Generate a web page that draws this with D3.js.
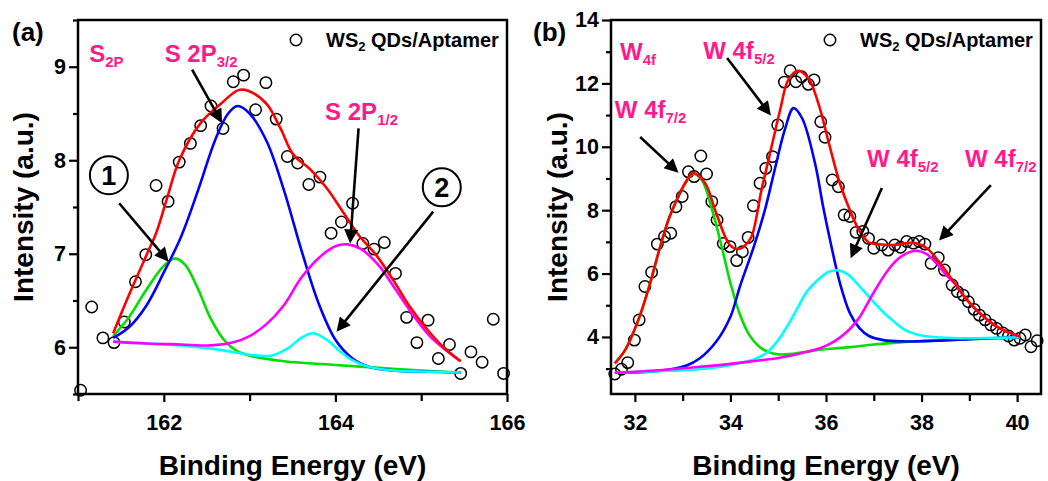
<!DOCTYPE html>
<html><head><meta charset="utf-8">
<script src="https://cdn.jsdelivr.net/npm/d3@7"></script>
<style>
body{margin:0;background:#fff;}
svg{display:block;font-family:"Liberation Sans",Arial,sans-serif;font-weight:bold;}
</style></head><body>
<svg id="chart" width="1048" height="481"></svg>
<script>
// ---------- Panel (a): S 2p ----------
const aPointsE = [161.03,161.16,161.29,161.42,161.54,161.67,161.79,161.91,162.05,162.18,162.31,162.43,162.55,162.69,162.81,162.93,163.07,163.19,163.31,163.44,163.56,163.69,163.82,163.95,164.07,164.20,164.32,164.45,164.57,164.70,164.83,164.95,165.08,165.20,165.33,165.46,165.58,165.71,165.84,165.96];
const aPointsI = [5.54,6.43,6.10,6.05,6.27,6.70,6.99,7.73,7.56,7.98,8.18,8.37,8.58,8.34,8.84,8.91,8.54,8.83,8.44,8.04,7.97,7.74,7.82,7.22,7.34,7.54,7.11,7.05,7.12,6.79,6.32,6.05,6.29,5.88,6.03,5.72,5.95,5.84,6.30,5.72];
const aGreen = [[161.41,6.12],[161.6,6.33],[161.8,6.62],[162.0,6.87],[162.13,6.95],[162.25,6.88],[162.4,6.62],[162.55,6.30],[162.7,6.08],[162.85,5.96],[163.0,5.91],[163.4,5.85],[164.0,5.81],[164.5,5.78],[165.0,5.75],[165.46,5.73]];
const aBlue = [[161.41,6.10],[161.6,6.22],[161.8,6.45],[162.0,6.80],[162.2,7.18],[162.4,7.68],[162.6,8.22],[162.75,8.50],[162.86,8.58],[163.0,8.50],[163.2,8.20],[163.4,7.68],[163.6,7.05],[163.8,6.48],[164.0,6.08],[164.2,5.88],[164.4,5.79],[164.7,5.75],[165.0,5.74],[165.46,5.73]];
const aCyan = [[161.41,6.06],[161.8,6.04],[162.2,6.02],[162.6,5.98],[163.0,5.92],[163.25,5.91],[163.45,5.99],[163.6,6.10],[163.74,6.15],[163.9,6.08],[164.05,5.96],[164.2,5.86],[164.4,5.79],[164.7,5.75],[165.0,5.74],[165.46,5.73]];
const aMagenta = [[161.41,6.06],[161.8,6.04],[162.2,6.03],[162.55,6.02],[162.8,6.05],[163.0,6.12],[163.2,6.25],[163.4,6.45],[163.6,6.74],[163.8,6.95],[164.0,7.08],[164.14,7.10],[164.3,7.05],[164.5,6.88],[164.7,6.62],[164.9,6.35],[165.1,6.12],[165.3,5.96],[165.46,5.85]];
const aRed = [[161.41,6.15],[161.59,6.55],[161.8,6.99],[161.91,7.22],[162.04,7.60],[162.18,8.00],[162.43,8.40],[162.66,8.60],[162.87,8.75],[162.99,8.74],[163.2,8.60],[163.36,8.34],[163.51,8.06],[163.71,7.90],[163.9,7.70],[164.1,7.43],[164.27,7.20],[164.48,6.98],[164.68,6.71],[164.87,6.43],[165.07,6.19],[165.26,6.00],[165.46,5.85]];
const aXTicks = [162,164,166];
const aXMinor = [161,163,165];
const aYTicks = [6,7,8,9];
const aYMinor = [5.5,6.5,7.5,8.5,9.5];

// ---------- Panel (b): W 4f ----------
const bPointsE = [31.58,31.72,31.85,31.99,32.09,32.21,32.35,32.47,32.62,32.75,32.86,32.99,33.12,33.24,33.38,33.50,33.61,33.72,33.85,33.99,34.13,34.25,34.37,34.48,34.62,34.74,34.88,34.99,35.13,35.25,35.37,35.49,35.63,35.75,35.89,35.98,36.13,36.26,36.38,36.50,36.63,36.77,36.89,37.00,37.17,37.30,37.44,37.56,37.69,37.83,37.95,38.07,38.20,38.35,38.48,38.64,38.75,38.87,38.98,39.10,39.21,39.33,39.45,39.57,39.70,39.82,39.94,40.06,40.17,40.29,40.42];
const bPointsI = [2.83,2.98,3.19,3.90,4.54,5.59,6.04,6.93,7.17,7.27,8.11,8.43,9.21,9.06,9.71,9.14,8.27,7.69,6.95,6.85,6.41,6.69,7.14,8.14,8.85,9.32,9.69,10.69,12.04,12.40,12.05,12.21,11.97,12.11,10.79,10.30,8.95,8.74,7.85,7.80,7.30,7.33,7.11,6.80,6.90,6.74,6.90,6.83,7.01,6.96,7.01,6.93,6.32,6.50,6.11,5.64,5.43,5.32,5.11,4.87,4.69,4.54,4.38,4.27,4.13,4.03,3.90,3.96,4.06,3.69,3.88];
const bGreen = [[31.58,3.16],[31.8,3.59],[32.07,4.52],[32.3,5.59],[32.49,6.63],[32.7,7.68],[32.87,8.29],[33.05,8.83],[33.22,9.14],[33.4,8.95],[33.6,8.1],[33.8,6.95],[34.0,5.7],[34.2,4.7],[34.4,4.05],[34.6,3.7],[34.8,3.52],[35.0,3.45],[35.3,3.47],[35.8,3.58],[36.5,3.68],[37.0,3.76],[37.5,3.82],[38.0,3.87],[38.5,3.9],[39.0,3.93],[39.5,3.96],[40.06,3.98]];
const bBlue = [[31.58,2.87],[32.5,2.93],[33.08,3.10],[33.36,3.33],[33.7,3.85],[34.0,4.64],[34.2,5.6],[34.5,6.9],[34.72,8.0],[34.93,9.3],[35.14,10.55],[35.32,11.22],[35.5,10.9],[35.77,9.48],[35.94,8.11],[36.1,6.95],[36.3,5.65],[36.5,4.75],[36.7,4.28],[36.9,4.03],[37.2,3.9],[37.6,3.86],[38.3,3.88],[39.0,3.93],[40.06,3.99]];
const bCyan = [[31.58,2.87],[32.5,2.92],[33.22,2.97],[33.8,3.06],[34.2,3.18],[34.5,3.3],[34.76,3.5],[35.0,3.9],[35.18,4.32],[35.4,4.9],[35.6,5.43],[35.87,5.85],[36.05,6.05],[36.25,6.1],[36.45,5.98],[36.64,5.7],[36.85,5.35],[37.0,5.1],[37.2,4.78],[37.41,4.5],[37.65,4.22],[37.9,4.08],[38.3,3.99],[38.8,3.96],[39.5,3.97],[40.06,3.99]];
const bMagenta = [[31.58,2.87],[32.5,2.95],[33.3,3.05],[34.0,3.15],[34.5,3.24],[34.97,3.33],[35.3,3.42],[35.6,3.53],[35.9,3.66],[36.1,3.8],[36.29,3.98],[36.5,4.25],[36.71,4.64],[36.99,5.38],[37.27,6.05],[37.5,6.45],[37.72,6.66],[37.9,6.72],[38.1,6.62],[38.32,6.32],[38.5,5.98],[38.7,5.68],[38.95,5.17],[39.3,4.64],[39.64,4.27],[40.06,4.01]];
const bRed = [[31.58,3.17],[31.8,3.6],[32.07,4.53],[32.3,5.6],[32.49,6.64],[32.7,7.69],[32.87,8.3],[33.05,8.85],[33.22,9.17],[33.47,8.85],[33.68,8.0],[33.89,7.16],[34.0,6.88],[34.15,6.77],[34.3,6.88],[34.44,7.16],[34.65,8.64],[34.86,10.0],[35.04,11.16],[35.21,12.11],[35.41,12.40],[35.63,12.16],[35.84,11.37],[36.08,10.0],[36.29,8.85],[36.5,8.0],[36.71,7.32],[36.9,6.98],[37.06,6.93],[37.41,6.90],[37.83,6.97],[38.11,6.80],[38.39,6.32],[38.67,5.74],[38.95,5.17],[39.3,4.64],[39.64,4.27],[40.06,4.01]];
const bXTicks = [32,34,36,38,40];
const bXMinor = [33,35,37,39];
const bYTicks = [4,6,8,10,12,14];
const bYMinor = [3,5,7,9,11,13];

const legendText = 'WS';
const legendSub = '2';
const legendRest = ' QDs/Aptamer';
const xTitle = 'Binding Energy (eV)';
const yTitle = 'Intensity (a.u.)';

// annotation texts (positions in data units)
const aLabels = [
  {main:'S', sub:'2P', e:161.13, v:9.05},
  {main:'S 2P', sub:'3/2', e:162.01, v:9.05},
  {main:'S 2P', sub:'1/2', e:163.88, v:8.43}
];
const aArrows = [
  {from:[162.33,8.97], to:[162.69,8.38]},
  {from:[164.27,8.34], to:[164.17,7.09]},
  {from:[161.48,7.54], to:[162.07,6.90]},
  {from:[165.14,7.45], to:[164.00,6.15]}
];
const aCircled = [{t:'1', e:161.36, v:7.84},{t:'2', e:165.24, v:7.71}];
const bLabels = [
  {main:'W', sub:'4f', e:31.69, v:12.74},
  {main:'W 4f', sub:'5/2', e:33.43, v:12.77},
  {main:'W 4f', sub:'7/2', e:31.58, v:10.91},
  {main:'W 4f', sub:'5/2', e:36.86, v:9.36},
  {main:'W 4f', sub:'7/2', e:38.91, v:9.36}
];
const bArrows = [
  {from:[33.93,12.80], to:[34.87,10.94]},
  {from:[32.11,10.31], to:[32.94,9.14]},
  {from:[37.17,8.70], to:[36.50,6.43]},
  {from:[39.45,8.79], to:[38.34,7.00]}
];

const PINK = '#ff1a8c';
const svg = d3.select('#chart');
const defs = svg.append('defs');
defs.append('marker').attr('id','ah').attr('viewBox','0 0 10 10')
  .attr('refX',2).attr('refY',5).attr('markerWidth',16).attr('markerHeight',14)
  .attr('markerUnits','userSpaceOnUse').attr('orient','auto')
  .append('path').attr('d','M0,0L10,5L0,10z').attr('fill','#000');

function panel(p){
  const x = d3.scaleLinear().domain(p.xDomain).range(p.xRange);
  const y = d3.scaleLinear().domain(p.yDomain).range(p.yRange);
  const g = svg.append('g');
  // data points
  g.selectAll('circle.pt').data(d3.zip(p.ptsE,p.ptsI)).join('circle')
    .attr('class','pt').attr('cx',d=>x(d[0])).attr('cy',d=>y(d[1])).attr('r',5.7)
    .attr('fill','none').attr('stroke','#000').attr('stroke-width',1.5);
  // fitted curves
  const line = d3.line().x(d=>x(d[0])).y(d=>y(d[1])).curve(d3.curveCatmullRom.alpha(0.5));
  p.fits.forEach(f=>{
    g.append('path').attr('d',line(f.data)).attr('fill','none')
      .attr('stroke',f.color).attr('stroke-width',2.6).attr('stroke-linejoin','round');
  });
  // arrows
  p.arrows.forEach(a=>{
    const x1=x(a.from[0]), y1=y(a.from[1]), x2=x(a.to[0]), y2=y(a.to[1]);
    const L=Math.hypot(x2-x1,y2-y1), s=(L-13)/L;
    g.append('line').attr('x1',x1).attr('y1',y1).attr('x2',x1+(x2-x1)*s).attr('y2',y1+(y2-y1)*s)
      .attr('stroke','#000').attr('stroke-width',2.6).attr('marker-end','url(#ah)');
  });
  // labels with subscripts
  p.labels.forEach(l=>{
    const t = g.append('text').attr('x',x(l.e)).attr('y',y(l.v)).attr('fill',PINK).attr('font-size',24);
    t.append('tspan').text(l.main);
    t.append('tspan').attr('font-size',15).attr('dy',5).text(l.sub);
  });
  (p.circled||[]).forEach(c=>{
    g.append('circle').attr('cx',x(c.e)).attr('cy',y(c.v)).attr('r',19)
      .attr('fill','#fff').attr('stroke','#000').attr('stroke-width',2);
    g.append('text').attr('x',x(c.e)).attr('y',y(c.v)+9.5).attr('text-anchor','middle')
      .attr('font-size',27).text(c.t);
  });
  // legend
  const lx = p.xRange[1]-211, ly = 40;
  g.append('circle').attr('cx',lx).attr('cy',ly).attr('r',5.7).attr('fill','none').attr('stroke','#000').attr('stroke-width',1.5);
  const lt = g.append('text').attr('x',lx+30).attr('y',ly+7).attr('font-size',20).attr('fill','#000');
  lt.append('tspan').text(legendText);
  lt.append('tspan').attr('font-size',13).attr('dy',4).text(legendSub);
  lt.append('tspan').attr('dy',-4).text(legendRest);
  // frame
  g.append('rect').attr('x',p.xRange[0]).attr('y',p.yRange[1])
    .attr('width',p.xRange[1]-p.xRange[0]).attr('height',p.yRange[0]-p.yRange[1])
    .attr('fill','none').attr('stroke','#000').attr('stroke-width',2.5);
  // axes
  const styleAxis = sel=>{
    sel.select('.domain').remove();
    sel.selectAll('.tick line').attr('stroke','#000').attr('stroke-width',2.2);
    sel.selectAll('.tick text').attr('fill','#000').attr('font-size',21.5)
      .attr('font-weight','bold').attr('font-family','"Liberation Sans",Arial,sans-serif');
  };
  g.append('g').attr('transform',`translate(0,${p.yRange[0]})`)
    .call(d3.axisBottom(x).tickValues(p.xMinor).tickSize(7).tickFormat('')).call(styleAxis);
  g.append('g').attr('transform',`translate(0,${p.yRange[0]})`)
    .call(d3.axisBottom(x).tickValues(p.xTicks).tickSize(8).tickPadding(13).tickFormat(d3.format('d'))).call(styleAxis);
  g.append('g').attr('transform',`translate(${p.xRange[0]},0)`)
    .call(d3.axisLeft(y).tickValues(p.yMinor).tickSize(5).tickFormat('')).call(styleAxis);
  g.append('g').attr('transform',`translate(${p.xRange[0]},0)`)
    .call(d3.axisLeft(y).tickValues(p.yTicks).tickSize(9).tickPadding(3).tickFormat(d3.format('d'))).call(styleAxis);
  // titles
  g.append('text').attr('x',(p.xRange[0]+p.xRange[1])/2).attr('y',475).attr('text-anchor','middle')
    .attr('font-size',28).text(xTitle);
  g.append('text').attr('transform',`translate(${p.yTitleX},${(p.yRange[0]+p.yRange[1])/2}) rotate(-90)`)
    .attr('text-anchor','middle').attr('font-size',28).text(yTitle);
  g.append('text').attr('x',p.tagX).attr('y',41).attr('font-size',26).text(p.tag);
}

panel({xDomain:[161,166], xRange:[78,507], yDomain:[5.5,9.5], yRange:[394,20],
  ptsE:aPointsE, ptsI:aPointsI,
  fits:[{data:aGreen,color:'#00e000'},{data:aBlue,color:'#0000ff'},{data:aCyan,color:'#00ffff'},{data:aMagenta,color:'#ff00ff'},{data:aRed,color:'#ff0000'}],
  arrows:aArrows, labels:aLabels, circled:aCircled,
  xTicks:aXTicks, xMinor:aXMinor, yTicks:aYTicks, yMinor:aYMinor,
  yTitleX:33, tag:'(a)', tagX:12});

panel({xDomain:[31.5,40.5], xRange:[611,1041], yDomain:[2.2,14], yRange:[394,20],
  ptsE:bPointsE, ptsI:bPointsI,
  fits:[{data:bGreen,color:'#00e000'},{data:bBlue,color:'#0000ff'},{data:bCyan,color:'#00ffff'},{data:bMagenta,color:'#ff00ff'},{data:bRed,color:'#ff0000'}],
  arrows:bArrows, labels:bLabels,
  xTicks:bXTicks, xMinor:bXMinor, yTicks:bYTicks, yMinor:bYMinor,
  yTitleX:567, tag:'(b)', tagX:533});
</script></body></html>
